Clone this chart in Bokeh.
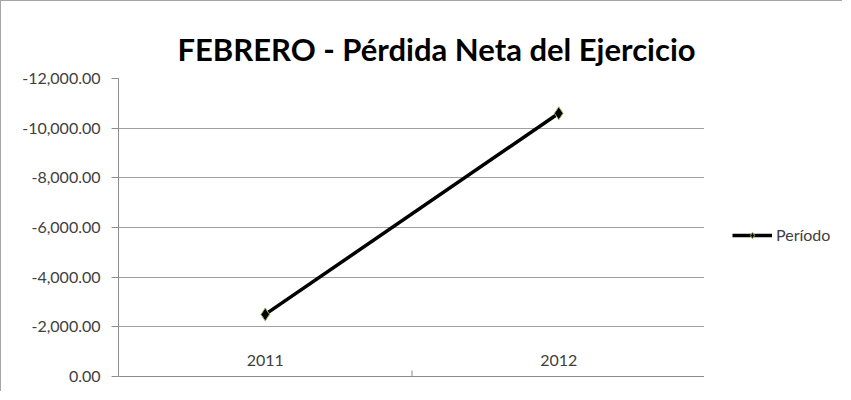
from bokeh.plotting import figure
from bokeh.layouts import row
from bokeh.models import (Range1d, FixedTicker, NumeralTickFormatter,
                          Legend, LegendItem, ColumnDataSource)
from bokeh.transform import dodge
from bokeh.embed import file_html
from bokeh.resources import INLINE

# ---- data ----
categories = ["2011", "2012"]
perdida = [-2500, -10600]
y_ticks = [0, -2000, -4000, -6000, -8000, -10000, -12000]
series_name = "Período"
title_text = "FEBRERO - Pérdida Neta del Ejercicio"

FONT = "Lato"
TXT = "#404040"
GRID = "#a0a0a0"
AXIS = "#8c8c8c"
BORDER = "1px solid #a6a6a6"

H = 391
ML, MT, MB = 117, 77, 16
FRAME_W = 587
LEG_W = 138

p = figure(width=ML + FRAME_W, height=H, x_range=categories,
           y_range=Range1d(0, min(y_ticks)),
           output_backend="svg", toolbar_location=None,
           min_border_left=ML, min_border_right=0,
           min_border_top=MT, min_border_bottom=MB)
p.styles = {"border-left": BORDER, "border-top": BORDER}

p.title.text = title_text
p.title.align = "left"
p.title.offset = 59
p.title.text_font = FONT
p.title.text_font_style = "bold"
p.title.text_font_size = "31px"
p.title.text_color = "#000000"
p.title.standoff = 22

p.outline_line_color = None
p.background_fill_color = "white"
p.border_fill_color = "white"

# y axis
p.yaxis.ticker = FixedTicker(ticks=y_ticks)
p.yaxis.formatter = NumeralTickFormatter(format="0,0.00")
p.yaxis.major_label_text_font = FONT
p.yaxis.major_label_text_font_size = "16px"
p.yaxis.major_label_text_color = TXT
p.yaxis.axis_line_color = AXIS
p.yaxis.major_tick_line_color = AXIS
p.yaxis.major_tick_out = 7
p.yaxis.major_tick_in = 0
p.yaxis.minor_tick_line_color = None
p.yaxis.major_label_standoff = 11

p.ygrid.grid_line_color = GRID
p.ygrid.ticker = FixedTicker(ticks=y_ticks)
p.xgrid.visible = False

# x axis: labels drawn inside the plot, above the axis line, as in the original
p.xaxis.axis_line_color = AXIS
p.xaxis.major_tick_line_color = None
p.xaxis.minor_tick_line_color = None
p.xaxis.major_label_text_font = FONT
p.xaxis.major_label_text_font_size = "16px"
p.xaxis.major_label_text_color = TXT
p.xaxis.major_label_standoff = -28

# tick mark between categories
tick_src = ColumnDataSource(dict(x=categories[:-1]))
y0 = p.y_range.start
tick_len = (p.y_range.end - p.y_range.start) * 0.02
p.segment(x0=dodge("x", 0.5, range=p.x_range), x1=dodge("x", 0.5, range=p.x_range),
          y0=y0, y1=y0 + tick_len, source=tick_src, line_color=AXIS, line_width=1)

line_style = dict(line_color="black", line_width=3.5)
marker_style = dict(marker="diamond", size=13, fill_color="black",
                    line_color="#9bbb59", line_width=1)

src = ColumnDataSource(dict(x=categories, y=perdida))
p.line("x", "y", source=src, **line_style)
p.scatter("x", "y", source=src, **marker_style)

# legend panel on the right (separate narrow figure with legend-only glyphs)
lf = figure(width=LEG_W, height=H, x_range=Range1d(0, 1), y_range=Range1d(0, 1),
            output_backend="svg", toolbar_location=None,
            x_axis_location=None, y_axis_location=None,
            min_border_left=0, min_border_right=0,
            min_border_top=MT, min_border_bottom=MB)
lf.styles = {"border-top": BORDER}
lf.outline_line_color = None
lf.xgrid.visible = False
lf.ygrid.visible = False
lf.border_fill_color = "white"
nan = float("nan")
hidden = ColumnDataSource(dict(x=[nan], y=[nan]))
lln = lf.line("x", "y", source=hidden, **line_style)
lsc = lf.scatter("x", "y", source=hidden, **marker_style)
frame_h = H - MT - MB
legend = Legend(items=[LegendItem(label=series_name, renderers=[lln, lsc])],
                location=(28, frame_h // 2 - 17), padding=0, margin=0,
                border_line_color=None, background_fill_alpha=0,
                glyph_width=40, glyph_height=16, label_standoff=4,
                label_text_font=FONT, label_text_font_size="16px",
                label_text_color=TXT)
lf.add_layout(legend, "center")

layout = row(p, lf)
open("out.html", "w").write(file_html(layout, INLINE))
